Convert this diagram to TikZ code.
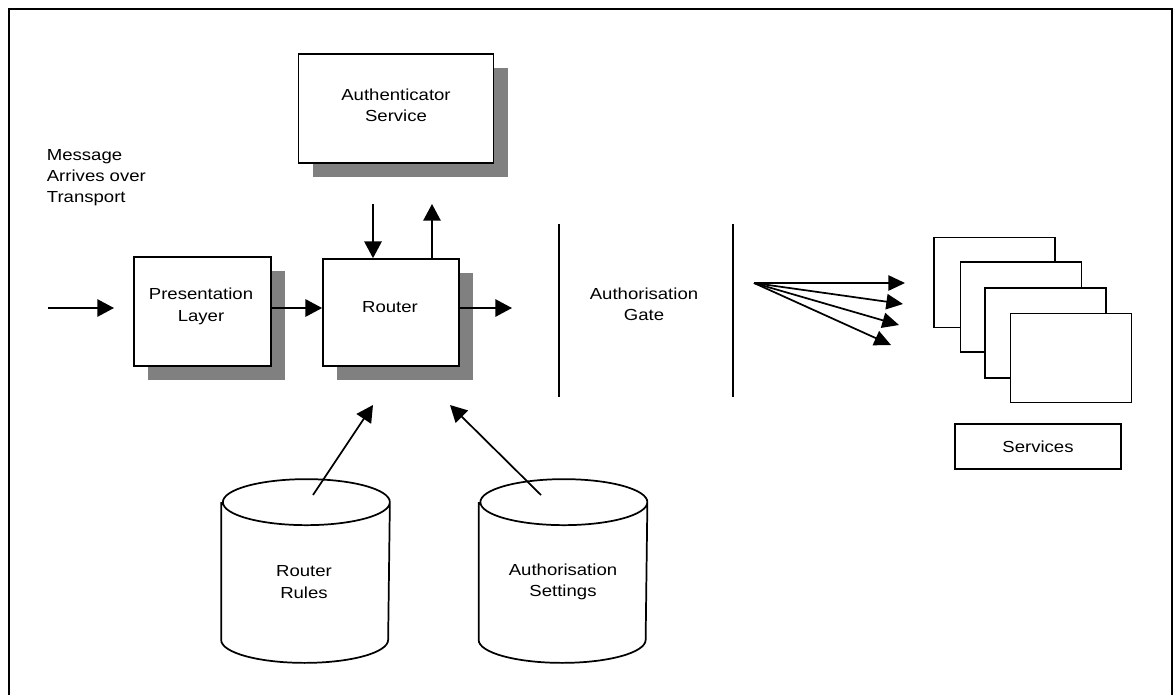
\documentclass[tikz,border=0pt]{standalone}
\usepackage{fontspec}
\setmainfont{Liberation Sans}[FakeStretch=1.16]
\usetikzlibrary{arrows.meta,shadows}
\definecolor{shadowgray}{HTML}{808080}
\begin{document}
\begin{tikzpicture}[x=0.75pt,y=-0.75pt,
  font=\fontsize{12}{16}\selectfont,
  line width=1.3pt,
  box/.style={draw, fill=white, line width=1.3pt, inner sep=0pt},
  shadowed/.style={drop shadow={shadow xshift=10.5pt, shadow yshift=-10.5pt,
                   fill=shadowgray, opacity=1}},
  lbl/.style={align=center, inner sep=0pt},
  body/.style={inner sep=0pt, minimum width=125.25pt, minimum height=102pt},
  arr/.style={-{Triangle[length=12.5pt,width=13pt]}, line width=1.3pt},
  fanarr/.style={-{Triangle[length=12.5pt,width=11.5pt]}, line width=1.3pt}]

\useasboundingbox (0,0) rectangle (1173,694);

% outer frame, open at the bottom
\draw[line width=1.8pt] (9,700) -- (9,9) -- (1172,9) -- (1172,700);

% incoming message
\node[lbl, anchor=west, align=left] (msg) at (46,177.5) {Message\\Arrives over\\Transport};

% main processing boxes
\node[box, shadowed, minimum width=146.25pt, minimum height=81.75pt] (auth) at (396,108.5) {};
\node[lbl] (authtxt) at (396,105.5) {Authenticator\\Service};

\node[box, shadowed, minimum width=102.75pt, minimum height=81.75pt] (pres) at (202.5,311.5) {};
\node[lbl] (prestxt) at (201,306.5) {Presentation\\Layer};

\node[box, shadowed, minimum width=102pt, minimum height=80.25pt] (router) at (391,312.5) {};
\node[lbl] (routertxt) at (390,307) {Router};

% flow arrows
\coordinate (in) at (48,308);
\coordinate (inTip) at (114,308);
\draw[arr] (in) -- (inTip);
\draw[arr] (pres.east |- in) -- (router.west |- in);
\coordinate (outTip) at (512,308);
\draw[arr] (router.east |- outTip) -- (outTip);

\coordinate (dn) at (373,204);
\coordinate (up) at (432,204);
\draw[arr] (dn) -- (dn |- router.north);
\draw[arr] (up |- router.north) -- (up);

% authorisation gate
\draw (559,224) -- (559,397);
\draw (733,224) -- (733,397);
\node[lbl] (gate) at (644,304) {Authorisation\\Gate};

% fan-out to services
\coordinate (fan) at (754,283);
\coordinate (t1) at (905,283);
\coordinate (t2) at (903,304);
\coordinate (t3) at (899,325);
\coordinate (t4) at (891,345);
\foreach \t in {t1,t2,t3,t4} \draw[fanarr] (fan) -- (\t);

% stacked service pages
\node[box, minimum width=90.75pt, minimum height=67.5pt] (svc1) at (994.5,282.5) {};
\node[box, minimum width=90.75pt, minimum height=67.5pt] (svc2) at (1021,307) {};
\node[box, minimum width=90.75pt, minimum height=67.5pt] (svc3) at (1045.5,333) {};
\node[box, minimum width=90.75pt, minimum height=66.75pt] (svc4) at (1071,358) {};
\node[box, minimum width=124.5pt, minimum height=33.75pt] (svclbl) at (1038,446.5) {Services};

% data stores
\node[body] (rules) at (305.5,571) {};
\draw (rules.north west) -- (rules.south west)
  arc[start angle=180, end angle=360, x radius=62.625pt, y radius=17.25pt]
  -- (rules.north east)
  arc[start angle=0, end angle=360, x radius=62.625pt, y radius=17.25pt];
\node[lbl] (rulestxt) at (304,582) {Router\\Rules};

\node[body] (settings) at (563,571) {};
\draw (settings.north west) -- (settings.south west)
  arc[start angle=180, end angle=360, x radius=62.625pt, y radius=17.25pt]
  -- (settings.north east)
  arc[start angle=0, end angle=360, x radius=62.625pt, y radius=17.25pt];
\node[lbl] (settingstxt) at (563,582) {Authorisation\\Settings};

% store feeds into the router
\coordinate (rulesOut) at (313,495);
\coordinate (rulesTip) at (373,405);
\coordinate (setOut) at (541,495);
\coordinate (setTip) at (450,405);
\draw[arr] (rulesOut) -- (rulesTip);
\draw[arr] (setOut) -- (setTip);
\end{tikzpicture}
\end{document}
